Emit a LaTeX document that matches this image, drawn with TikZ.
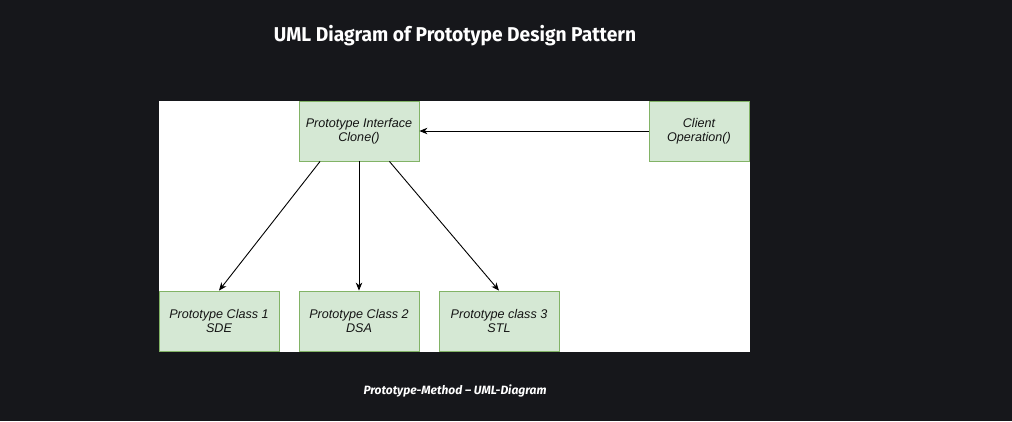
\documentclass[tikz,border=0pt]{standalone}
\usepackage{fontspec}
\usepackage{tikz}
\usetikzlibrary{arrows.meta}
\newfontfamily\boxfont{Liberation Sans}
\newfontfamily\headfont[FakeStretch=0.96]{Fira Sans}
\newfontfamily\capfont{Fira Sans}
\definecolor{bgdark}{RGB}{22,23,27}
\definecolor{boxfill}{HTML}{D5E8D4}
\definecolor{boxline}{HTML}{82B366}
\definecolor{boxtext}{RGB}{20,20,20}

\begin{document}
\begin{tikzpicture}[x=1pt,y=-1pt,>={Stealth[length=8pt,width=6.5pt,inset=2.5pt]},
  umlbox/.style={draw=boxline,fill=boxfill,line width=0.8pt,minimum width=120pt,minimum height=60pt,inner sep=0pt,align=center,text=boxtext,font=\boxfont\itshape\fontsize{12.6}{14}\selectfont},
  link/.style={->,line width=0.9pt,black}]
\fill[bgdark] (0,0) rectangle (1012,421);
\useasboundingbox (0,0) rectangle (1012,421);
\fill[white] (159,101) rectangle (750,352);
\node[text=white,font=\headfont\bfseries\fontsize{20}{24}\selectfont] (title) at (455,36) {UML Diagram of Prototype Design Pattern};
\node[umlbox] (iface) at (359,131) {Prototype Interface\\Clone()};
\node[umlbox,minimum width=100pt] (client) at (699,131) {Client\\Operation()};
\node[umlbox] (class1) at (219,321) {Prototype Class 1\\SDE};
\node[umlbox] (class2) at (359,321) {Prototype Class 2\\DSA};
\node[umlbox] (class3) at (499,321) {Prototype class 3\\STL};
\draw[link] (client.west)--(iface.east);
\draw[link] (iface.218)--(class1.north);
\draw[link] (iface.south)--(class2.north);
\draw[link] (iface.-45)--(class3.north);
\node[text=white,font=\capfont\bfseries\itshape\fontsize{12}{14}\selectfont] (caption) at (455,391) {Prototype-Method – UML-Diagram};
\end{tikzpicture}
\end{document}
